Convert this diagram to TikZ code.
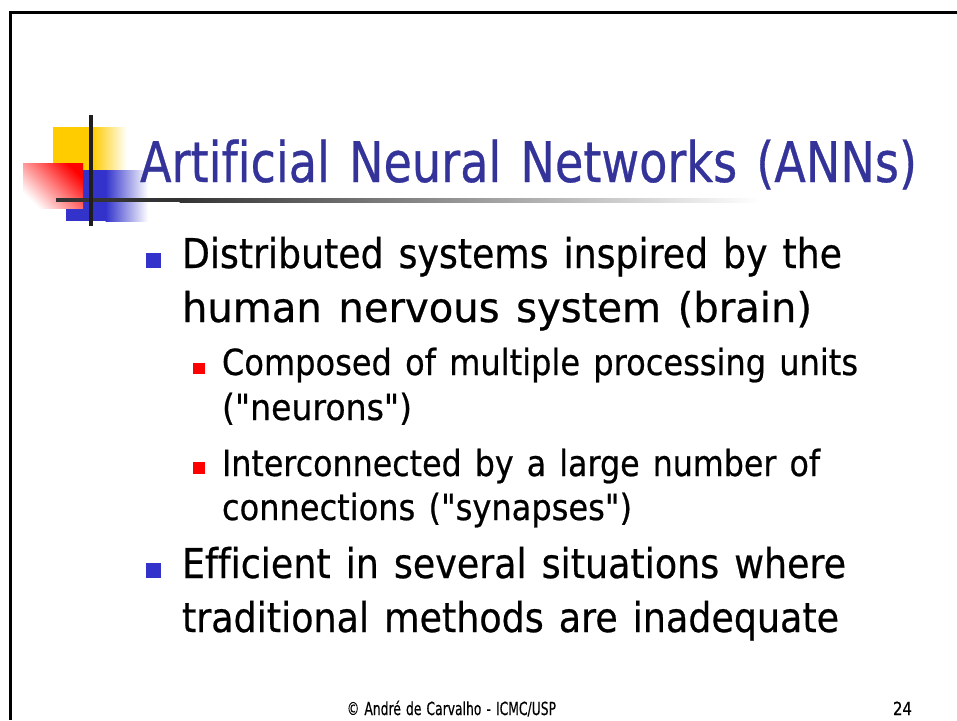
\documentclass[tikz,border=0pt]{standalone}
\usepackage{fontspec}
\usepackage{graphicx}
\setmainfont{DejaVu Sans}[WordSpace=1.3, Ligatures={TeXOff,CommonOff}, FakeBold=0.6]

% squeeze a line of text to a given width, keeping its height
\newcommand{\fitw}[2]{\resizebox{#1}{\height}{#2}}

\definecolor{titleblue}{HTML}{333399}
\definecolor{bulletblue}{HTML}{3333CC}
\definecolor{bulletred}{HTML}{FF0000}
\definecolor{logoyellow}{HTML}{FFCC00}
\definecolor{logoblue}{HTML}{3333CC}
\definecolor{logored}{HTML}{FF0000}
\definecolor{logoline}{HTML}{1E1E1E}
\definecolor{rulegray}{HTML}{333333}

\begin{document}
\begin{tikzpicture}[x=1pt,y=-1pt,
  txt/.style={inner sep=0pt, outer sep=0pt, anchor=base west},
  ttl/.style={txt, font=\fontsize{56}{60}\selectfont, text=titleblue},
  lvlone/.style={txt, font=\fontsize{41}{48}\selectfont},
  lvltwo/.style={txt, font=\fontsize{36}{42}\selectfont},
  foot/.style={txt, font=\fontsize{18}{22}\selectfont},
  bluebullet/.style={fill=bulletblue},
  redbullet/.style={fill=bulletred},
  frameline/.style={line width=2.5pt, black}]

\useasboundingbox (0,0) rectangle (957,720);

% slide frame (top and left edges)
\draw[frameline] (10.5,720) -- (10.5,12.5) -- (957,12.5);

% title logo: coloured blocks and crossing bars
\fill[logoyellow] (53,127) rectangle (93,171);
\shade[left color=logoyellow, right color=white] (92.5,127) rectangle (127,171);
\fill[logoblue] (66,170) rectangle (106,221);
\shade[left color=logoblue, right color=white] (105.5,170) rectangle (148,221);
\shade[top color=logored, bottom color=white, shading angle=-45] (23,163) rectangle (83,208);
\fill[rulegray] (56,198) rectangle (180,202);
\shade[left color=rulegray, right color=white] (179.5,198) rectangle (760,202);
\fill[logoline] (89,115) rectangle (93,226);

% title
\node[ttl] (title) at (140,182) {\fitw{777pt}{Artificial Neural Networks (ANNs)}};

% first bullet
\fill[bluebullet] (146,253) rectangle (160.5,267.5);
\node[lvlone] (b1a) at (182,268) {\fitw{660pt}{Distributed systems inspired by the}};
\node[lvlone] (b1b) at (182,322) {\fitw{630pt}{human nervous system (brain)}};

% sub-bullets
\fill[redbullet] (193,362.5) rectangle (204.5,374);
\node[lvltwo] (s1a) at (222,375) {\fitw{636pt}{Composed of multiple processing units}};
\node[lvltwo] (s1b) at (222,420) {\fitw{190pt}{("neurons")}};
\fill[redbullet] (193,462) rectangle (204.5,473.5);
\node[lvltwo] (s2a) at (222,476) {\fitw{598pt}{Interconnected by a large number of}};
\node[lvltwo] (s2b) at (222,520) {\fitw{410pt}{connections ("synapses")}};

% second bullet
\fill[bluebullet] (146,563) rectangle (160.5,577.5);
\node[lvlone] (b2a) at (182,578) {\fitw{664pt}{Efficient in several situations where}};
\node[lvlone] (b2b) at (182,632) {\fitw{657pt}{traditional methods are inadequate}};

% footer
\node[foot] (credit) at (347,715) {\fitw{209pt}{© André de Carvalho - ICMC/USP}};
\node[foot] (page) at (893,715) {\fitw{19pt}{24}};

\end{tikzpicture}
\end{document}
